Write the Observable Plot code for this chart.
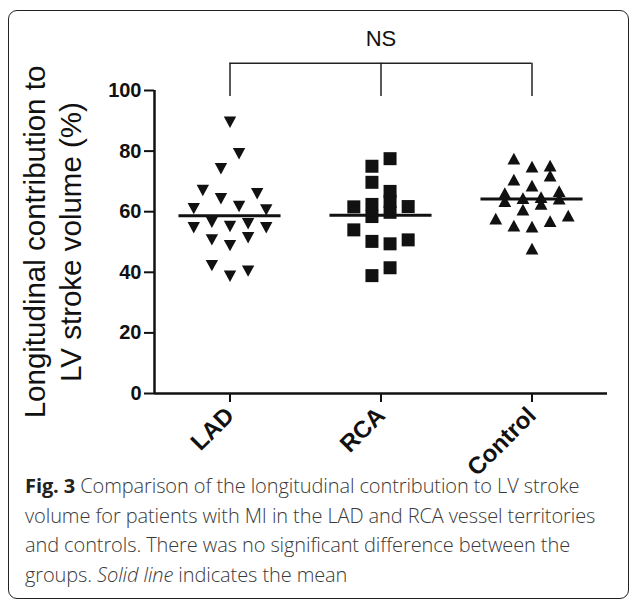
<!DOCTYPE html>
<html><head><meta charset="utf-8">
<script src="https://cdn.jsdelivr.net/npm/d3@7"></script>
<script src="https://cdn.jsdelivr.net/npm/@observablehq/plot@0.6"></script>
<style>
body{margin:0;background:#fff;}
#wrap{position:relative;width:630px;height:599px;overflow:hidden;background:#fff;}
#frame{position:absolute;left:8px;top:10px;width:621px;height:589px;border:1.5px solid #222;border-radius:9px;box-sizing:border-box;}
#chart{position:absolute;left:0;top:0;}
#caption{position:absolute;left:25px;top:471px;font-family:"Open Sans";font-size:20px;font-weight:300;line-height:29.6px;color:#3a3a3a;white-space:nowrap;letter-spacing:-0.1px;}
#caption b{color:#222;font-weight:700;}
</style></head><body>
<div id="wrap"><div id="frame"></div><div id="chart"></div>
<div id="caption"><b>Fig. 3</b> Comparison of the longitudinal contribution to LV stroke<br>volume for patients with MI in the LAD and RCA vessel territories<br>and controls. There was no significant difference between the<br>groups. <i>Solid line</i> indicates the mean</div>
</div>
<script>
const groups = ["LAD", "RCA", "Control"];
const ladValues = [89.5, 79.1, 74.2, 67.0, 64.3, 65.9, 61.7, 61.0, 60.6, 54.7, 56.5, 55.1, 56.0, 54.7, 50.7, 51.4, 48.8, 42.2, 38.7, 40.4];
const ladLanes  = [0, 1, -1, -3, -1, 3, 1, -4, 4, -4, -2, 0, 2, 4, -2, 2, 0, -2, 0, 2];
const rcaValues = [77.5, 75.0, 69.7, 66.7, 63.4, 59.8, 61.6, 61.7, 62.4, 58.4, 54.0, 50.2, 49.4, 50.7, 41.5, 38.9];
const rcaLanes  = [1, -1, -1, 1, 1, 1, -3, 3, -1, -1, -3, -1, 1, 3, 1, -1];
const controlValues = [77.5, 74.9, 75.2, 71.9, 70.6, 68.6, 66.1, 63.5, 66.8, 64.3, 64.5, 64.8, 62.6, 60.7, 57.7, 58.7, 55.4, 55.1, 56.9, 47.8];
const controlLanes  = [-2, 0, 2, 2, -2, 0, -3, -3, 3, 3, -1, 1, 1, -1, -4, 4, -2, 0, 2, 0];
const yTicks = [0, 20, 40, 60, 80, 100];
const yTitle = "Longitudinal contribution to\nLV stroke volume (%)";
const sigLabel = "NS";
const bracketLow = 98, bracketHigh = 109, sigLabelLevel = 117;

const laneStep = 0.06;
const series = [[ladValues, ladLanes], [rcaValues, rcaLanes], [controlValues, controlLanes]];
const rows = [];
series.forEach(([vals, lanes], gi) => vals.forEach((v, i) => rows.push({gi, value: v, xpos: gi + lanes[i] * laneStep})));
const means = series.map(([vals], gi) => ({gi, mean: d3.mean(vals)}));

const triDown = {draw(ctx, size) { const r = Math.sqrt(size / Math.PI); const h = r * 0.92; ctx.moveTo(-r, -h); ctx.lineTo(r, -h); ctx.lineTo(0, h); ctx.closePath(); }};
const triUp = {draw(ctx, size) { const r = Math.sqrt(size / Math.PI); const h = r * 0.92; ctx.moveTo(-r, h); ctx.lineTo(r, h); ctx.lineTo(0, -h); ctx.closePath(); }};
const square = {draw(ctx, size) { const r = Math.sqrt(size / Math.PI); ctx.rect(-r, -r, 2 * r, 2 * r); }};
const symbols = [triDown, square, triUp];
const radii = [6.2, 6.5, 6.4];

const xDomain = [-0.5, 2.5];
const chart = Plot.plot({
  width: 630, height: 500,
  marginTop: 90, marginBottom: 107, marginLeft: 154, marginRight: 23,
  style: {fontFamily: "Liberation Sans, Arial, sans-serif", color: "#111", background: "transparent"},
  x: {domain: xDomain},
  y: {domain: [0, 100]},
  marks: [
    Plot.ruleY([0], {x1: xDomain[0], x2: xDomain[1], strokeWidth: 2.5, stroke: "#111"}),
    Plot.ruleX([xDomain[0]], {y1: 0, y2: 100, strokeWidth: 2.5, stroke: "#111"}),
    Plot.axisY(yTicks, {tickSize: 10, tickPadding: 3, fontSize: 20, fontWeight: "bold", strokeWidth: 2, label: null}),
    Plot.axisX([0, 1, 2], {tickFormat: i => groups[i], tickSize: 9, tickPadding: 9, tickRotate: -45, fontSize: 24, fontWeight: "bold", strokeWidth: 2, label: null}),
    ...symbols.map((sym, gi) => Plot.dot(rows.filter(d => d.gi === gi), {x: "xpos", y: "value", symbol: sym, r: radii[gi], fill: "#111", stroke: "none"})),
    Plot.ruleY(means, {y: "mean", x1: d => d.gi - 0.338, x2: d => d.gi + 0.338, strokeWidth: 3, stroke: "#111"}),
    Plot.ruleY([bracketHigh], {x1: 0, x2: 2, strokeWidth: 1.5, stroke: "#222"}),
    Plot.ruleX([0, 1, 2], {y1: bracketLow, y2: bracketHigh, strokeWidth: 1.5, stroke: "#222"}),
    Plot.text([sigLabel], {x: 1, y: sigLabelLevel, text: d => d, fontSize: 22, fill: "#111"}),
    Plot.text([yTitle], {frameAnchor: "left", text: d => d, rotate: -90, dx: -103, fontSize: 29.5, lineHeight: 1.2, textAnchor: "middle", fill: "#111"})
  ]
});
document.getElementById("chart").appendChild(chart);
</script>
</body></html>
